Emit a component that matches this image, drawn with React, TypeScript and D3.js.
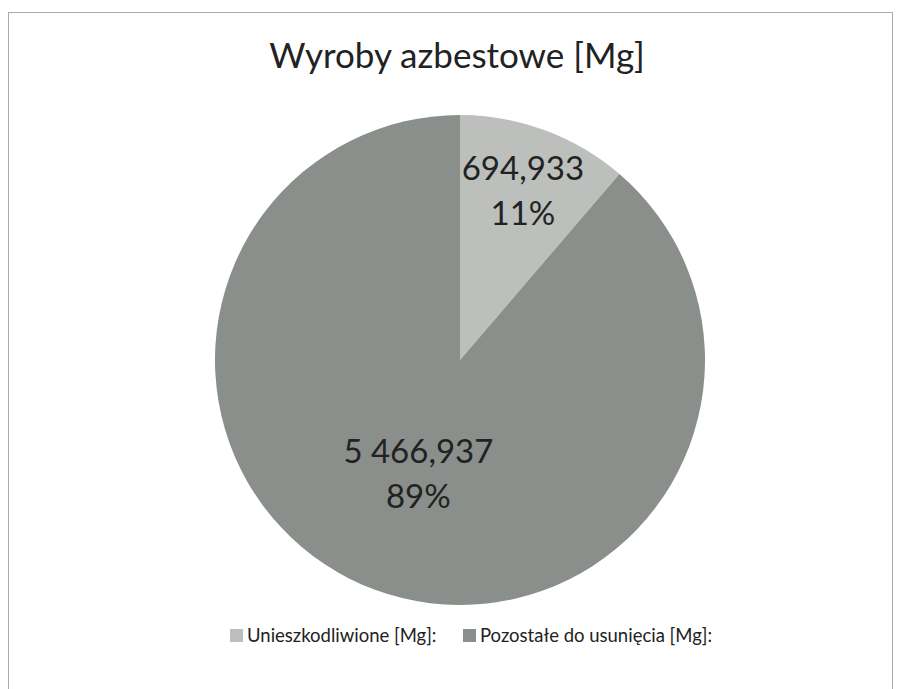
import React from "react";
import * as d3 from "d3";

const categories = ["Unieszkodliwione [Mg]:", "Pozostałe do usunięcia [Mg]:"];
const values = [694933, 5466937];
const valueLabels = ["694,933", "5 466,937"];
const percentLabels = ["11%", "89%"];
const colors = ["#bcbfbc", "#8a8f8b"];
const labelRadius = [0.74, 0.49];

const W = 898;
const H = 689;
const cx = 460;
const cy = 360;
const R = 245;
const FONT = "Lato, 'Open Sans', sans-serif";

const App = () => {
  const pie = d3.pie<number>().value(d => d).sort(null);
  const arcs = pie(values);
  const arc = d3.arc<d3.PieArcDatum<number>>().innerRadius(0).outerRadius(R);

  return (
    <svg width={W} height={H} style={{ position: "absolute", left: 0, top: 0, background: "#fff" }}
      fontFamily={FONT}>
      <rect x={8.5} y={12.5} width={884} height={700} fill="none" stroke="#aaa" strokeWidth={1} />
      <text x={457} y={68} textAnchor="middle" fontSize={35} fill="#222">Wyroby azbestowe [Mg]</text>
      <g transform={`translate(${cx},${cy})`}>
        {arcs.map((d, i) => {
          const la = d3.arc<d3.PieArcDatum<number>>()
            .innerRadius(R * labelRadius[i]).outerRadius(R * labelRadius[i]);
          const [x, y] = la.centroid(d);
          return (
            <g key={i}>
              <path d={arc(d) || ""} fill={colors[i]} />
              <text x={x} y={y - 10} textAnchor="middle" fontSize={33} fill="#222">{valueLabels[i]}</text>
              <text x={x} y={y + 35} textAnchor="middle" fontSize={33} fill="#222">{percentLabels[i]}</text>
            </g>
          );
        })}
      </g>
      <g transform="translate(0,642)">
        {categories.map((c, i) => {
          const x0 = i === 0 ? 230 : 463;
          return (
            <g key={i} transform={`translate(${x0},0)`}>
              <rect x={0} y={-13} width={13} height={13} fill={colors[i]} />
              <text x={17} y={0} fontSize={18.5} fill="#222">{c}</text>
            </g>
          );
        })}
      </g>
    </svg>
  );
};

export default App;
